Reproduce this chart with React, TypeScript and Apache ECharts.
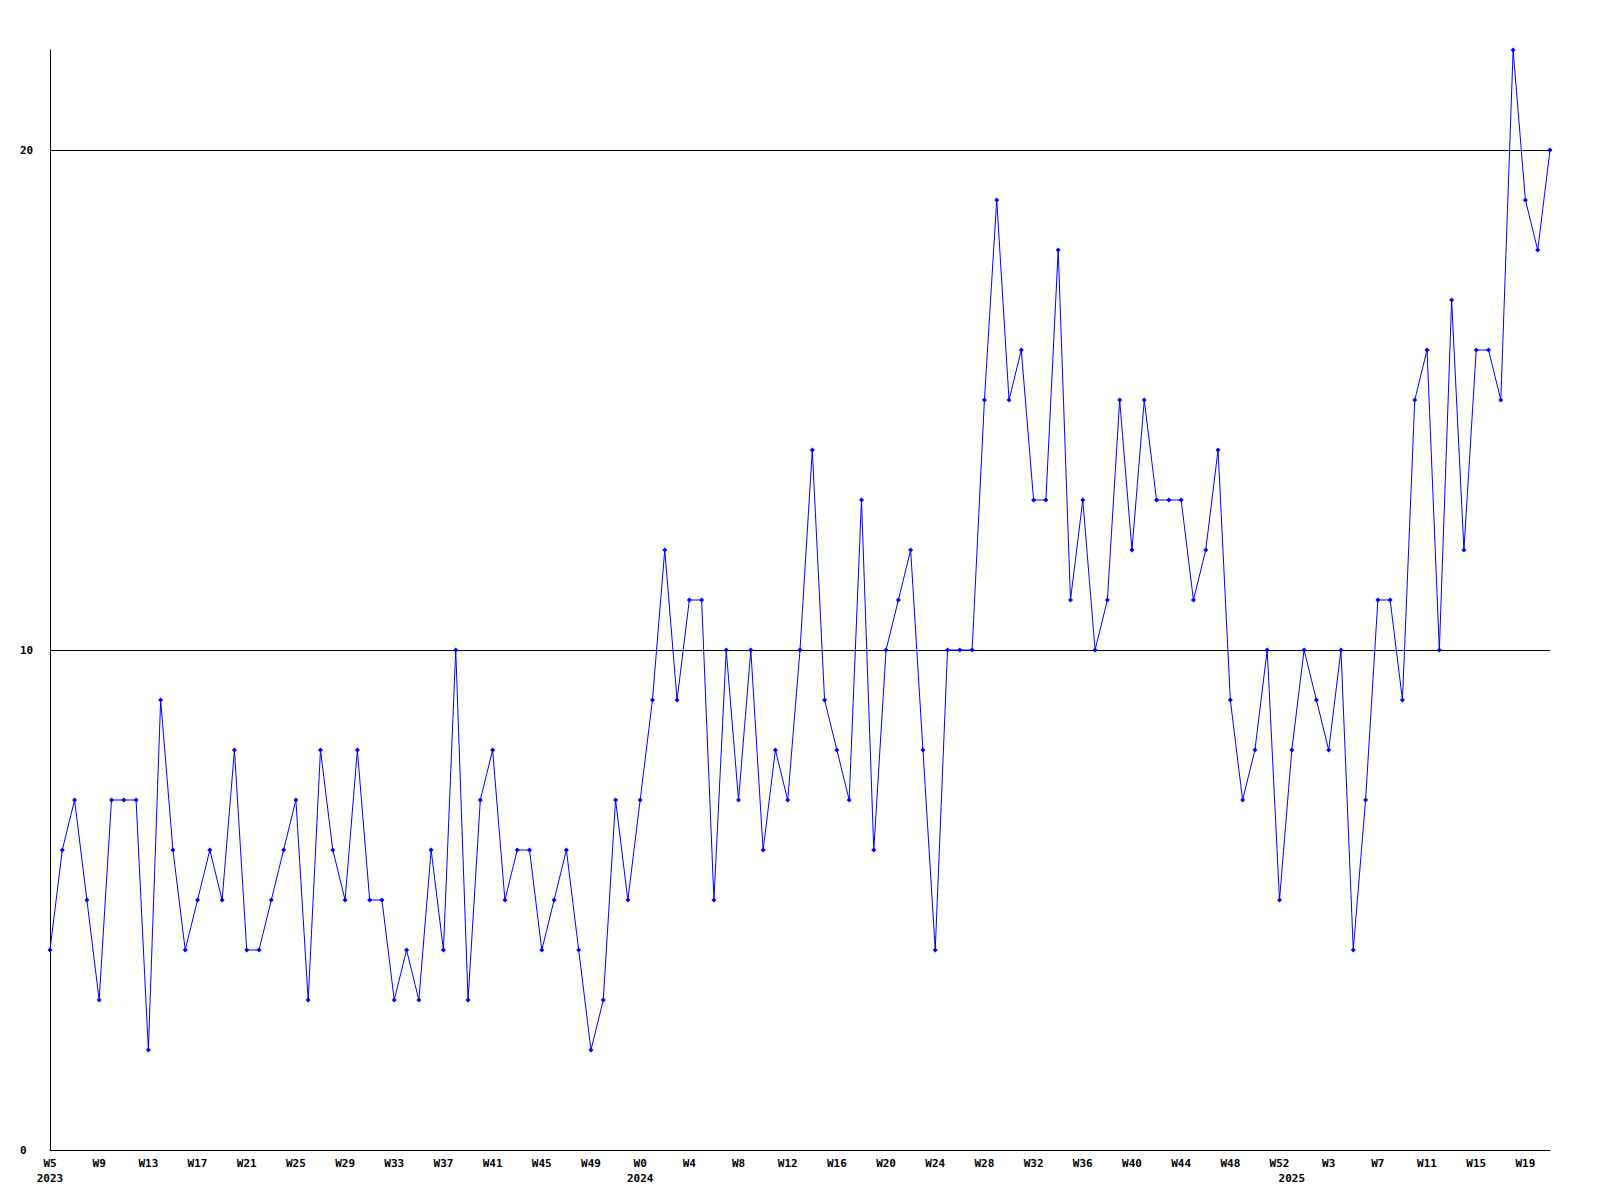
import React, { useEffect, useRef } from "react";
import * as echarts from "echarts";

// Week numbers per year (weekly series, labelled "W<n>")
const weeks2023: number[] = [];
for (let w = 5; w <= 52; w++) weeks2023.push(w);
const weeks2024: number[] = [];
for (let w = 0; w <= 52; w++) weeks2024.push(w);
const weeks2025: number[] = [];
for (let w = 0; w <= 21; w++) weeks2025.push(w);

const years = [2023, 2024, 2025];

const categories: string[] = [
  ...weeks2023.map((w) => `2023-W${w}`),
  ...weeks2024.map((w) => `2024-W${w}`),
  ...weeks2025.map((w) => `2025-W${w}`),
];

const values = [
  4, 6, 7, 5, 3, 7, 7, 7, 2, 9, 6, 4, 5, 6, 5, 8, 4, 4, 5, 6,
  7, 3, 8, 6, 5, 8, 5, 5, 3, 4, 3, 6, 4, 10, 3, 7, 8, 5, 6, 6,
  4, 5, 6, 4, 2, 3, 7, 5, 7, 9, 12, 9, 11, 11, 5, 10, 7, 10, 6, 8,
  7, 10, 14, 9, 8, 7, 13, 6, 10, 11, 12, 8, 4, 10, 10, 10, 15, 19, 15, 16,
  13, 13, 18, 11, 13, 10, 11, 15, 12, 15, 13, 13, 13, 11, 12, 14, 9, 7, 8, 10,
  5, 8, 10, 9, 8, 10, 4, 7, 11, 11, 9, 15, 16, 10, 17, 12, 16, 16, 15, 22,
  19, 18, 20,
];

const gridValues = [10, 20];
const yMin = 0;
const yMax = 22;

const FONT = "'DejaVu Sans Mono', 'Liberation Mono', monospace";

export default function App() {
  const ref = useRef<HTMLDivElement>(null);

  useEffect(() => {
    if (!ref.current) return;
    const chart = echarts.init(ref.current, null, { renderer: "svg" });

    const firstOfYear: Record<number, number> = {};
    years.forEach((y) => {
      const idx = categories.findIndex((c) => c.startsWith(`${y}-`));
      firstOfYear[idx] = y;
    });

    chart.setOption({
      animation: false,
      backgroundColor: "#ffffff",
      grid: { left: 50, right: 50, top: 50, bottom: 50, containLabel: false },
      xAxis: {
        type: "category",
        data: categories,
        boundaryGap: false,
        axisLine: { show: true, lineStyle: { color: "#000000", width: 1 } },
        axisTick: { show: false },
        splitLine: { show: false },
        axisLabel: {
          interval: (index: number) => index % 4 === 0 || firstOfYear[index] !== undefined,
          formatter: (val: string, index: number) => {
            const wk = val.split("-")[1];
            const yr = firstOfYear[index];
            const top = index % 4 === 0 ? wk : " ";
            return yr !== undefined ? `${top}\n${yr}` : top;
          },
          color: "#000000",
          fontFamily: FONT,
          fontWeight: "bold",
          fontSize: 11,
          lineHeight: 15,
          margin: 6,
          verticalAlign: "top",
        },
      },
      yAxis: {
        type: "value",
        min: yMin,
        max: yMax,
        interval: 10,
        axisLine: { show: true, lineStyle: { color: "#000000", width: 1 } },
        axisTick: { show: false },
        splitLine: { show: false },
        axisLabel: {
          showMaxLabel: false,
          align: "left",
          margin: 30,
          color: "#000000",
          fontFamily: FONT,
          fontWeight: "bold",
          fontSize: 11,
        },
      },
      series: [
        {
          type: "line",
          data: values,
          symbol: "diamond",
          symbolSize: 5,
          showAllSymbol: true,
          itemStyle: { color: "#0000ff" },
          lineStyle: { color: "#0000ff", width: 1 },
          z: 3,
          markLine: {
            silent: true,
            symbol: "none",
            label: { show: false },
            lineStyle: { color: "#000000", width: 1, type: "solid" },
            data: gridValues.map((v) => ({ yAxis: v })),
            z: 1,
          },
        },
      ],
    });

    return () => chart.dispose();
  }, []);

  return (
    <div
      ref={ref}
      style={{ position: "absolute", left: 0, top: 0, width: 1600, height: 1200, background: "#fff" }}
    />
  );
}
